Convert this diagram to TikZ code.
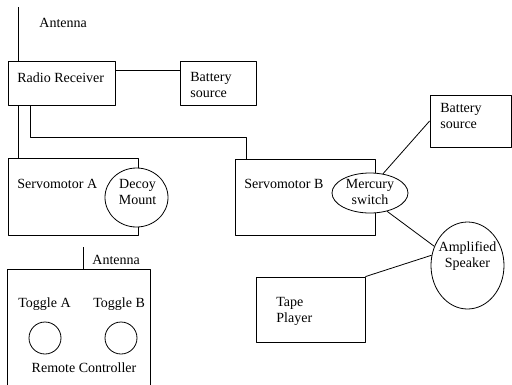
\documentclass[tikz,border=0pt]{standalone}
\usepackage{fontspec}
\setmainfont{Liberation Serif}
\usetikzlibrary{shapes.geometric}
\begin{document}
\begin{tikzpicture}[x=1pt,y=-1pt,line join=round,line width=0.8pt,
	font=\fontsize{14}{16}\selectfont,
	box/.style={draw,rectangle,inner sep=0pt},
	oval/.style={draw,ellipse,fill=white,inner sep=0pt},
	txt/.style={inner sep=0pt,align=left}]
	\useasboundingbox (0,0) rectangle (512,384);
	\path (18,7) coordinate (ant1)
	(30,137) coordinate (ra) (246,137) coordinate (rb)
	(83,247) coordinate (ant2);
	\foreach \n/\x/\y/\w/\h in {rr/61.5/83/107/44,bat1/218/83/76/44,sa/73/196.5/130/77,sb/305/197/140/76,bat2/470.5/121/81/52,tp/310.5/309.5/109/65,rc/78.75/335/142.5/132}
	\node[box,minimum width=\w pt,minimum height=\h pt] (\n) at (\x,\y) {};
	\draw (ant1) -- (rr.north -| ant1);
	\draw ([yshift=13pt]rr.east) -- ([yshift=13pt]bat1.west);
	\draw (rr.south -| ant1) -- (sa.north -| ant1);
	\draw (rr.south -| ra) -- (ra) -- (rb) -- (sb.north -| rb);
	\draw (ant2) -- (rc.north -| ant2);
	% ovals
	\foreach \n/\x/\y/\w/\h in {dm/136.5/197.5/63/59,ms/370/193/76/40,spk/467.5/265.5/73/87}
	\node[oval,minimum width=\w pt,minimum height=\h pt] (\n) at (\x,\y) {};
	\draw (ms.56) -- (bat2.west);
	\draw (ms.-47) -- (spk.150);
	\draw (tp.north east) -- (spk.164);
	% toggles
	\foreach \n/\x in {tga/45,tgb/121}
	\node[draw,circle,inner sep=0pt,minimum size=32pt] (\n) at (\x,338) {};
	% texts
	\foreach \n/\x/\y/\t in {ant1t/39/27/Antenna,rrt/17/82/Radio Receiver,sat/17/188/Servomotor A,sbt/244/188/Servomotor B,ant2t/92/264/Antenna,tgat/18/307/Toggle A,tgbt/93/307/Toggle B}
	\node[txt,anchor=base west] (\n) at (\x,\y) {\t};
	\node[txt,anchor=base] (rct) at (84,372) {Remote Controller};
	\node[txt,anchor=west] (bat1t) at (190,84.5) {Battery\\source};
	\node[txt,anchor=west] (bat2t) at (440,116) {Battery\\source};
	\node[txt,anchor=west] (tpt) at (276,311) {Tape\\Player};
	\node[txt,align=center] (dmt) at (137.5,192) {Decoy\\Mount};
	\node[txt,align=center] (mst) at (370,192) {Mercury\\switch};
	\node[txt,align=center] (spkt) at (467.5,256.5) {Amplified\\Speaker};
\end{tikzpicture}
\end{document}
